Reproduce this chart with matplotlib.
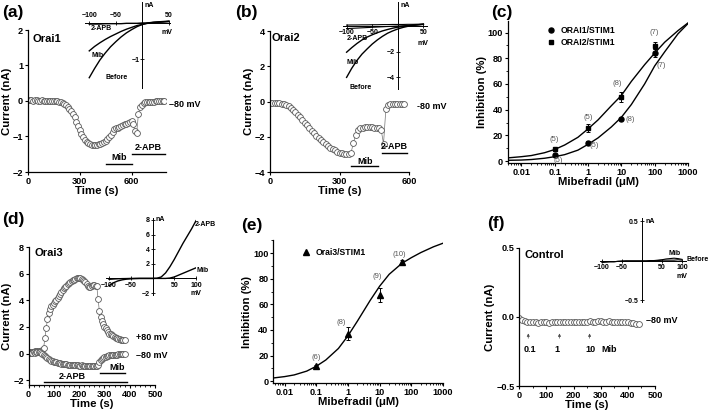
import numpy as np
import matplotlib
matplotlib.use('Agg')
import matplotlib.pyplot as plt
from matplotlib.lines import Line2D
from matplotlib.ticker import MultipleLocator

plt.rcParams['font.family'] = ['Liberation Sans', 'DejaVu Sans']
plt.rcParams['font.weight'] = 'bold'
plt.rcParams['axes.labelweight'] = 'bold'
plt.rcParams['axes.linewidth'] = 0.9

# ---- (a) Orai1, -80 mV, sampled every 10 s
orai1_t = np.arange(0, 800, 10)
orai1_i = [0.02, 0.02, 0.02, 0.01, 0.02, 0.02, 0.01, 0.01, 0.02, 0.01, 0.01, 0.00, 0.00, 0.00, 0.00, -0.01, -0.01, -0.01,
           -0.02, -0.04, -0.06, -0.08, -0.10, -0.16, -0.22, -0.28, -0.37, -0.46, -0.58, -0.70, -0.82, -0.93, -1.02, -1.10, -1.15, -1.19,
           -1.21, -1.23, -1.24, -1.24, -1.23, -1.21, -1.20, -1.18, -1.15, -1.12, -1.08, -1.02, -0.95, -0.86, -0.80, -0.77, -0.75, -0.73,
           -0.70, -0.68, -0.66, -0.64, -0.62, -0.60, -0.57, -0.65, -0.85, -0.90, -0.37, -0.18, -0.10, -0.06, -0.04, -0.03, -0.02, -0.02,
           -0.02, -0.02, -0.01, -0.01, -0.01, -0.01, -0.01, -0.01]

# ---- (b) Orai2, -80 mV
orai2_t = np.arange(0, 590, 10)
orai2_i = [-0.08, -0.08, -0.09, -0.10, -0.10, -0.12, -0.15, -0.20, -0.27, -0.36,
           -0.47, -0.60, -0.75, -0.90, -1.05, -1.20, -1.35, -1.50, -1.65, -1.80,
           -1.93, -2.05, -2.17, -2.30, -2.42, -2.52, -2.62, -2.70, -2.78, -2.85,
           -2.90, -2.93, -2.96, -2.98, -3.00, -2.90, -2.35, -1.90, -1.62, -1.52,
           -1.48, -1.47, -1.46, -1.46, -1.47, -1.48, -1.50, -1.52, -1.62, -2.40,
           -0.45, -0.20, -0.15, -0.14, -0.14, -0.13, -0.13, -0.13, -0.12]

# ---- (d) Orai3, +80 and -80 mV, sampled every 5 s
orai3_t = np.arange(0, 385, 5)
orai3_pos = [0.10, 0.10, 0.10, 0.12, 0.15, 0.18, 0.20, 0.20, 0.20, 0.20,
             0.22, 0.30, 0.45, 1.20, 1.90, 2.60, 3.05, 3.35, 3.55, 3.65,
             3.80, 3.95, 4.05, 4.20, 4.30, 4.45, 4.60, 4.75, 4.90, 5.00,
             5.10, 5.20, 5.30, 5.38, 5.45, 5.50, 5.55, 5.60, 5.65, 5.68,
             5.70, 5.65, 5.60, 5.55, 5.45, 5.35, 5.20, 5.10, 5.00, 5.00,
             5.05, 5.12, 5.15, 5.10, 5.05, 4.10, 3.20, 2.75, 2.45, 2.20,
             2.00, 1.90, 1.80, 1.65, 1.50, 1.45, 1.38, 1.30, 1.22, 1.18,
             1.14, 1.10, 1.08, 1.06, 1.05, 1.03, 1.02]
orai3_neg = [0.05, 0.08, 0.05, 0.08, 0.10, 0.08, 0.10, 0.12, 0.15, 0.10,
             0.05, -0.05, -0.12, -0.20, -0.28, -0.35, -0.42, -0.47, -0.52, -0.56,
             -0.60, -0.63, -0.66, -0.69, -0.71, -0.73, -0.75, -0.77, -0.78, -0.80,
             -0.81, -0.82, -0.83, -0.84, -0.85, -0.86, -0.86, -0.87, -0.88, -0.88,
             -0.90, -0.89, -0.88, -0.90, -0.91, -0.90, -0.92, -0.92, -0.90, -0.92,
             -0.93, -0.92, -0.90, -0.92, -0.95, -0.85, -0.60, -0.50, -0.42, -0.33,
             -0.27, -0.22, -0.18, -0.15, -0.13, -0.11, -0.10, -0.09, -0.08, -0.07,
             -0.07, -0.06, -0.06, -0.05, -0.05, -0.05, -0.05]

# ---- (f) control, -80 mV
ctrl_t = np.arange(0, 450, 10)
ctrl_i = [-0.01, -0.02, -0.03, -0.035, -0.04, -0.04, -0.04, -0.045, -0.04, -0.04,
          -0.04, -0.045, -0.04, -0.04, -0.035, -0.04, -0.04, -0.04, -0.035, -0.04,
          -0.04, -0.035, -0.035, -0.04, -0.035, -0.035, -0.03, -0.035, -0.035, -0.03,
          -0.03, -0.035, -0.035, -0.03, -0.035, -0.035, -0.04, -0.035, -0.04, -0.04,
          -0.04, -0.045, -0.045, -0.05, -0.055]
ctrl_doses = [33, 148, 259]

# ---- I-V insets
iv_v = np.arange(-100, 60, 10)
iv_a_before = [-1.50, -1.25, -1.02, -0.83, -0.66, -0.52, -0.39, -0.28, -0.19, -0.11, -0.05, -0.01, 0.01, 0.02, 0.03, 0.04]
iv_a_mib = [-0.77, -0.65, -0.55, -0.46, -0.38, -0.31, -0.24, -0.18, -0.13, -0.08, -0.05, -0.02, 0.00, 0.01, 0.02, 0.03]
iv_a_apb = [-0.04, -0.04, -0.04, -0.03, -0.03, -0.03, -0.03, -0.02, -0.02, -0.02, -0.01, -0.01, 0.00, 0.01, 0.02, 0.03]
iv_b_before = [-4.0, -3.3, -2.7, -2.2, -1.8, -1.42, -1.1, -0.82, -0.58, -0.4, -0.25, -0.13, -0.04, 0.03, 0.08, 0.13]
iv_b_mib = [-2.05, -1.7, -1.38, -1.1, -0.88, -0.7, -0.54, -0.4, -0.29, -0.19, -0.11, -0.05, 0.0, 0.04, 0.08, 0.11]
iv_b_apb_hi = [0.05, 0.06, 0.06, 0.07, 0.07, 0.08, 0.08, 0.09, 0.09, 0.1, 0.1, 0.1, 0.11, 0.11, 0.12, 0.12]
iv_b_apb_lo = [-0.22, -0.2, -0.18, -0.16, -0.14, -0.12, -0.1, -0.08, -0.06, -0.04, -0.02, 0.0, 0.02, 0.05, 0.08, 0.1]
iv_v2 = np.arange(-100, 110, 10)
iv_d_apb = [-1.0, -0.6, -0.35, -0.2, -0.1, -0.05, -0.02, 0.0, 0.0, 0.0, 0.0, 0.02, 0.2, 0.75, 1.6, 2.6, 3.7, 4.8, 5.8, 6.8, 7.9]
iv_d_mib = [-0.12, -0.08, -0.05, -0.03, -0.02, 0.0, 0.0, 0.0, 0.0, 0.0, 0.0, 0.0, 0.0, 0.0, 0.05, 0.2, 0.45, 0.7, 0.95, 1.2, 1.45]
iv_f_before = [-0.01, -0.01, -0.01, -0.01, -0.005, -0.005, 0, 0, 0, 0, 0, 0, 0, 0, 0.005, 0.01, 0.01, 0.01, 0.01, 0.015, 0.01]
iv_f_mib = [-0.02, -0.015, -0.01, -0.01, -0.005, 0, 0, 0, 0, 0, 0, 0, 0.005, 0.005, 0.01, 0.015, 0.025, 0.03, 0.035, 0.03, 0.02]

# ---- dose-response
mib_conc = [0.1, 1, 10, 100]
orai1_inh = [4.7, 14.3, 32.7, 84.0]
orai1_err = [1.0, 1.5, 1.0, 3.0]
orai1_n = ['(5)', '(5)', '(8)', '(7)']
orai2_inh = [9.1, 25.7, 49.6, 89.9]
orai2_err = [1.2, 3.0, 4.0, 3.0]
orai2_n = ['(5)', '(5)', '(8)', '(7)']
orai3_conc = [0.1, 1, 10, 50]
orai3_inh = [11.6, 37.2, 67.4, 93.3]
orai3_err = [1.2, 5.0, 5.5, 1.5]
orai3_n = ['(6)', '(8)', '(9)', '(10)']
fit_conc = [0.004, 0.01, 0.02, 0.05, 0.1, 0.2, 0.5, 1, 2, 5, 10, 20, 50, 100, 200, 500, 1000]
orai1_fit = [0.6, 0.8, 1.2, 2.2, 3.4, 5.0, 8.5, 13.0, 18.0, 26.5, 34.0, 44.0, 60.0, 74.0, 85.0, 99.0, 107.0]
orai2_fit = [2.5, 3.4, 4.3, 6.5, 9.0, 12.5, 18.5, 25.0, 32.0, 43.0, 51.0, 62.0, 75.0, 84.0, 92.5, 101.5, 107.5]
orai3_fit = [2.3, 3.5, 4.8, 7.8, 11.6, 16.5, 25.5, 35.4, 47.0, 63.0, 74.2, 83.5, 92.0, 96.5, 100.5, 105.0, 107.8]

W, H = 709, 415
fig = plt.figure(figsize=(W / 100, H / 100), dpi=100)

LABEL = 8.2
TICK = 6.6


def px_axes(left, top, right, bottom):
    return fig.add_axes([left / W, 1 - bottom / H, (right - left) / W, (bottom - top) / H])


def style_main(ax, xlabel, ylabel):
    for s in ('top', 'right'):
        ax.spines[s].set_visible(False)
    ax.tick_params(direction='out', length=2.5, width=0.8, labelsize=TICK, pad=1)
    ax.tick_params(which='minor', length=1.5, width=0.6)
    ax.set_xlabel(xlabel, fontsize=LABEL, labelpad=0)
    ax.set_ylabel(ylabel, fontsize=LABEL, labelpad=0.5)


def trace(ax, t, i):
    ax.plot(t, i, '-o', color='0.45', lw=0.5, ms=4.2, mfc='white', mec='0.35', mew=0.6)


def bar(ax, x0, x1, y, label, ly, lx=None):
    ax.plot([x0, x1], [y, y], color='k', lw=1.0, clip_on=False)
    if lx is None:
        lx = (x0 + x1) / 2
    ax.text(lx, ly, label, ha='center', va='center', fontsize=6.5)


def iv_axes(rect, xlim, ylim, top_labels=False):
    ax = px_axes(*rect)
    ax.patch.set_alpha(0)
    ax.set_xlim(*xlim)
    ax.set_ylim(*ylim)
    ax.spines['right'].set_visible(False)
    ax.spines['left'].set_position(('data', 0))
    if top_labels:
        ax.spines['bottom'].set_visible(False)
        ax.spines['top'].set_position(('data', 0))
        ax.xaxis.tick_top()
    else:
        ax.spines['top'].set_visible(False)
        ax.spines['bottom'].set_position(('data', 0))
    for s in ax.spines.values():
        s.set_linewidth(0.7)
    ax.tick_params(direction='inout', length=2.5, width=0.6, labelsize=5, pad=1)
    return ax


def panel_label(x, y, s):
    fig.text(x / W, 1 - y / H, s, fontsize=12.5, va='top', ha='left')


# ================= (a)
ax = px_axes(28, 30, 166, 172)
style_main(ax, 'Time (s)', 'Current (nA)')
trace(ax, orai1_t, orai1_i)
ax.set_xlim(0, 800)
ax.set_ylim(-2, 2)
ax.set_xticks([0, 300, 600])
ax.set_yticks([-2, -1, 0, 1, 2])
ax.text(25, 1.75, 'Orai1', fontsize=8, va='center')
ax.text(815, -0.1, '\u201380 mV', fontsize=6.5, va='center', clip_on=False)
bar(ax, 455, 601, -1.77, 'Mib', -1.6)
bar(ax, 601, 795, -1.48, '2-APB', -1.3)

ins = iv_axes((85, 2, 170, 88), (-108, 52), (-1.78, 0.56), top_labels=True)
ins.plot(iv_v, iv_a_before, 'k', lw=1)
ins.plot(iv_v, iv_a_mib, 'k', lw=1)
ins.plot(iv_v, iv_a_apb, 'k', lw=1)
ins.set_xticks([-100, -50, 50], ['\u2212100', '\u221250', '50'])
ins.set_yticks([-1], ['\u22121'])
ins.text(-98, -0.17, '2-APB', fontsize=5, va='center')
ins.text(-96, -0.9, 'Mib', fontsize=5, va='center')
ins.text(-70, -1.5, 'Before', fontsize=5, va='center')
ins.text(4, 0.47, 'nA', fontsize=5, va='center')
ins.text(46, -0.26, 'mV', fontsize=5, va='center', ha='center')

# ================= (b)
ax = px_axes(270, 31, 409, 172)
style_main(ax, 'Time (s)', 'Current (nA)')
trace(ax, orai2_t, orai2_i)
ax.set_xlim(0, 600)
ax.set_ylim(-4, 4)
ax.set_xticks([0, 300, 600])
ax.set_yticks([-4, -2, 0, 2, 4])
ax.text(8, 3.6, 'Orai2', fontsize=8, va='center')
ax.text(635, -0.3, '-80 mV', fontsize=6.5, va='center', clip_on=False)
bar(ax, 351, 468, -3.68, 'Mib', -3.4)
bar(ax, 483, 593, -2.92, '2-APB', -2.55)

ins = iv_axes((343, 2, 427, 89), (-107, 57), (-4.9, 1.84))
ins.plot(iv_v, iv_b_before, 'k', lw=1)
ins.plot(iv_v, iv_b_mib, 'k', lw=1)
ins.plot(iv_v, iv_b_apb_hi, 'k', lw=0.8)
ins.plot(iv_v, iv_b_apb_lo, 'k', lw=0.8)
ins.set_xticks([-100, -50, 50], ['\u2212100', '\u221250', '50'])
ins.set_yticks([-4, -2], ['\u22124', '\u22122'])
ins.text(-100, -0.95, '2-APB', fontsize=5, va='center')
ins.text(-100, -2.85, 'Mib', fontsize=5, va='center')
ins.text(-94, -4.75, 'Before', fontsize=5, va='center')
ins.text(5, 1.6, 'nA', fontsize=5, va='center')
ins.text(50, -1.4, 'mV', fontsize=5, va='center', ha='center')

# ================= (c)
ax = px_axes(508, 21, 688, 163)
style_main(ax, 'Mibefradil (\u03bcM)', 'Inhibition (%)')
ax.set_xscale('log')
ax.plot(fit_conc, orai2_fit, 'k', lw=1)
ax.plot(fit_conc, orai1_fit, 'k', lw=1)
ax.errorbar(mib_conc, orai1_inh, yerr=orai1_err, fmt='o', color='k', ms=3.6,
            capsize=1.5, elinewidth=0.7, capthick=0.7)
ax.errorbar(mib_conc, orai2_inh, yerr=orai2_err, fmt='s', color='k', ms=3.4,
            capsize=1.5, elinewidth=0.7, capthick=0.7)
ax.set_xlim(0.004, 1000)
ax.set_ylim(-1.5, 109)
ax.set_xticks([0.01, 0.1, 1, 10, 100, 1000], ['0.01', '0.1', '1', '10', '100', '1000'])
ax.set_yticks([0, 20, 40, 60, 80, 100])
ax.yaxis.set_minor_locator(MultipleLocator(10))
ann = dict(fontsize=5.5, color='0.35', fontweight='normal', ha='center', va='center')
c_off1 = [(1.3, -4.5), (1.55, -2), (1.8, 0), (1.6, -10)]
c_off2 = [(1.0, 8), (1.0, 8), (0.75, 10.5), (1.0, 10.5)]
for x, y, s, (fx, dy) in zip(mib_conc, orai1_inh, orai1_n, c_off1):
    ax.text(x * fx, y + dy, s, **ann)
for x, y, s, (fx, dy) in zip(mib_conc, orai2_inh, orai2_n, c_off2):
    ax.text(x * fx, y + dy, s, **ann)
h1 = Line2D([], [], marker='o', ls='', color='k', ms=3.6)
h2 = Line2D([], [], marker='s', ls='', color='k', ms=3.4)
ax.legend([h1, h2], ['ORAI1/STIM1', 'ORAI2/STIM1'], loc='upper left', bbox_to_anchor=(0.17, 1.02),
          frameon=False, fontsize=6.2, handlelength=1.0, handletextpad=0.6, labelspacing=0.35)

# ================= (d)
ax = px_axes(28.5, 247, 155, 385)
style_main(ax, 'Time (s)', 'Current (nA)')
trace(ax, orai3_t, orai3_pos)
trace(ax, orai3_t, orai3_neg)
ax.set_xlim(0, 500)
ax.set_ylim(-2.35, 8)
ax.set_xticks([0, 100, 200, 300, 400, 500])
ax.xaxis.set_minor_locator(MultipleLocator(20))
ax.set_yticks([-2, 0, 2, 4, 6, 8])
ax.text(22, 7.55, 'Orai3', fontsize=8, va='center')
ax.text(425, 1.2, '+80 mV', fontsize=6.5, va='center')
ax.text(425, -0.13, '\u201380 mV', fontsize=6.5, va='center')
bar(ax, 282, 382, -1.48, 'Mib', -1.03, lx=350)
bar(ax, 62, 388, -2.13, '2-APB', -1.72, lx=172)

ins = iv_axes((106, 218, 196, 295), (-107, 100), (-2.27, 8.27))
ins.plot(iv_v2, iv_d_apb, 'k', lw=1)
ins.plot(iv_v2, iv_d_mib, 'k', lw=1)
ins.set_xticks([-100, -50, 50, 100], ['\u2212100', '\u221250', '50', '100'])
ins.set_yticks([-2, 2, 4, 6, 8], ['\u22122', '2', '4', '6', '8'])
ins.text(8, 8.0, 'nA', fontsize=5, va='center')
ins.text(98, 7.4, '2-APB', fontsize=5, va='center', clip_on=False)
ins.text(102, 1.05, 'Mib', fontsize=5, va='center', clip_on=False)
ins.text(100, -2.1, 'mV', fontsize=5, va='center', ha='center')

# ================= (e)
ax = px_axes(273.3, 240.4, 443, 383)
style_main(ax, 'Mibefradil (\u03bcM)', 'Inhibition (%)')
ax.set_xscale('log')
ax.plot(fit_conc, orai3_fit, 'k', lw=1)
ax.errorbar(orai3_conc, orai3_inh, yerr=orai3_err, fmt='^', color='k', ms=3.8,
            capsize=1.5, elinewidth=0.7, capthick=0.7)
ax.set_xlim(0.0044, 1000)
ax.set_ylim(-1.5, 110)
ax.set_xticks([0.01, 0.1, 1, 10, 100, 1000], ['0.01', '0.1', '1', '10', '100', '1000'])
ax.set_yticks([0, 20, 40, 60, 80, 100])
ax.yaxis.set_minor_locator(MultipleLocator(10))
e_off = [(1.0, 7), (0.6, 8.5), (0.85, 14), (0.85, 6)]
for x, y, s, (fx, dy) in zip(orai3_conc, orai3_inh, orai3_n, e_off):
    ax.text(x * fx, y + dy, s, **ann)
h3 = Line2D([], [], marker='^', ls='', color='k', ms=3.8)
ax.legend([h3], ['Orai3/STIM1'], loc='upper left', bbox_to_anchor=(0.12, 1.0),
          frameon=False, fontsize=6.2, handlelength=1.0, handletextpad=0.6)

# ================= (f)
ax = px_axes(519.3, 247.7, 655, 386)
style_main(ax, 'Time (s)', 'Current (nA)')
trace(ax, ctrl_t, ctrl_i)
ax.set_xlim(0, 500)
ax.set_ylim(-0.5, 0.5)
ax.set_xticks([0, 100, 200, 300, 400, 500])
ax.xaxis.set_minor_locator(MultipleLocator(50))
ax.set_yticks([-0.5, 0, 0.5], ['\u22120.5', '0.0', '0.5'])
ax.text(20, 0.45, 'Control', fontsize=8, va='center')
ax.text(468, -0.03, '\u201380 mV', fontsize=6.5, va='center', clip_on=False)
for t in ctrl_doses:
    ax.annotate('', xy=(t, -0.1), xytext=(t, -0.175),
                arrowprops=dict(arrowstyle='-|>', lw=0.5, color='0.3', mutation_scale=4))
for x, s in zip([40, 140, 262, 330], ['0.1', '1', '10', 'Mib']):
    ax.text(x, -0.237, s, fontsize=6.5, ha='center', va='center')

ins = iv_axes((600, 218, 686, 302), (-105, 110), (-0.52, 0.544))
ins.plot(iv_v2, iv_f_before, 'k', lw=0.8)
ins.plot(iv_v2, iv_f_mib, 'k', lw=0.8)
ins.set_xticks([-100, -50, 50, 100], ['\u2212100', '\u221250', '50', '100'])
ins.set_yticks([-0.5, 0.5], ['\u22120.5', '0.5'])
ins.text(8, 0.5, 'nA', fontsize=5, va='center')
ins.text(82, 0.1, 'Mib', fontsize=5, va='center', ha='center')
ins.text(112, 0.013, 'Before', fontsize=5, va='center', clip_on=False)
ins.text(100, -0.2, 'mV', fontsize=5, va='center', ha='center')

panel_label(2, 5, '(a)')
panel_label(235, 5, '(b)')
panel_label(491, 5, '(c)')
panel_label(2, 212, '(d)')
panel_label(241, 218, '(e)')
panel_label(487, 216, '(f)')

fig.savefig('out.png', dpi=100)
